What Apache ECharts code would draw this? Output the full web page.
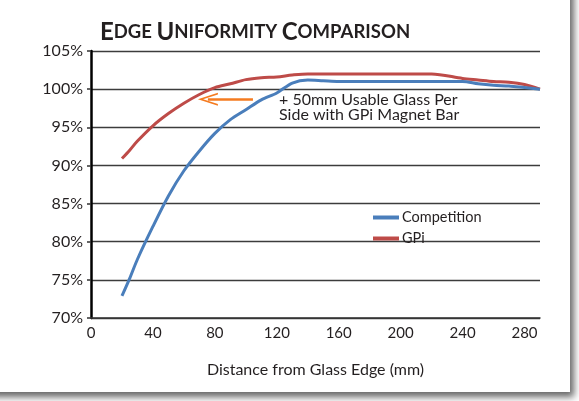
<!DOCTYPE html>
<html>
<head>
<meta charset="utf-8">
<script src="https://cdn.jsdelivr.net/npm/echarts@6/dist/echarts.min.js"></script>
<style>
html,body{margin:0;padding:0;width:579px;height:401px;overflow:hidden;background:#fff;}
#card{position:absolute;left:-20px;top:-20px;width:590px;height:412px;background:#fff;box-shadow:3px 4px 7px 1px rgba(0,0,0,0.6);}
#chart{position:absolute;left:0;top:0;width:579px;height:401px;}
</style>
</head>
<body>
<div id="card"></div>
<div id="chart"></div>
<script>
const distance = [20,25,30,40,50,60,70,80,90,100,110,120,130,140,150,160,180,200,220,240,250,260,270,280,290];
const competition = [72.9,75.2,77.7,82.0,86.0,89.3,91.9,94.2,96.0,97.3,98.6,99.5,100.8,101.2,101.1,101.0,101.0,101.0,101.0,101.0,100.7,100.5,100.4,100.2,100.0];
const gpi = [90.9,92.0,93.2,95.2,96.8,98.15,99.3,100.2,100.7,101.25,101.5,101.6,101.85,102.0,102.0,102.0,102.0,102.0,102.0,101.4,101.2,101.0,100.9,100.6,100.0];
const seriesNames = ['Competition','GPi'];
const yTicks = [70,75,80,85,90,95,100,105];
const xTicks = [0,40,80,120,160,200,240,280];
const arrowFrom = [104.6, 98.67];
const arrowTo = [75.5, 98.67];
const noteText = '+ 50mm Usable Glass Per\nSide with GPi Magnet Bar';

const FONT = 'Lato';
const chart = echarts.init(document.getElementById('chart'), null, {renderer:'canvas'});
const pair = (ys) => distance.map((x,i)=>[x, ys[i]]);

function smallCaps(str){
  return str.split(' ').map(w => '{b|' + w[0] + '}{s|' + w.slice(1).toUpperCase() + '}').join('{s| }');
}

chart.setOption({
  animation:false,
  backgroundColor:'transparent',
  title:{
    text: smallCaps('Edge Uniformity Comparison'),
    left: 95, top: 15,
    textStyle:{
      rich:{
        b:{fontFamily:FONT,fontWeight:'bold',fontSize:24,color:'#231f20'},
        s:{fontFamily:FONT,fontWeight:'bold',fontSize:18.5,color:'#231f20'}
      }
    }
  },
  grid:{left:91,right:39,top:51,bottom:83,containLabel:false},
  legend:{
    orient:'vertical', left:368, top:205,
    itemWidth:26, itemHeight:4, itemGap:6, icon:'rect',
    textStyle:{fontFamily:FONT,fontSize:14.5,color:'#231f20',padding:[0,0,0,-2]},
    data: seriesNames
  },
  xAxis:{
    type:'value', min:0, max:290, interval:40,
    axisLine:{show:true,onZero:false,lineStyle:{color:'#333',width:1.5}},
    axisTick:{show:false},
    splitLine:{show:false},
    axisLabel:{fontFamily:FONT,fontSize:15,color:'#231f20',margin:8,showMaxLabel:false,
      formatter:(v)=> xTicks.includes(v) ? String(v) : ''},
    name:'Distance from Glass Edge (mm)', nameLocation:'middle', nameGap:44,
    nameTextStyle:{fontFamily:FONT,fontSize:16,color:'#231f20'}
  },
  yAxis:{
    type:'value', min:70, max:105, interval:5,
    axisLine:{show:true,lineStyle:{color:'#000',width:2.5}},
    axisTick:{show:true,length:4,lineStyle:{color:'#333',width:1.5}},
    splitLine:{show:true,lineStyle:{color:'#3c3c3c',width:1.4}},
    axisLabel:{fontFamily:FONT,fontSize:16,color:'#231f20',margin:8,
      formatter:(v)=> yTicks.includes(v) ? v + '%' : ''}
  },
  series:[
    {
      name:seriesNames[0], type:'line', data:pair(competition),
      smooth:0.3, symbol:'none',
      lineStyle:{color:'#4a7ebb',width:3}, itemStyle:{color:'#4a7ebb'},
      z:3
    },
    {
      name:seriesNames[1], type:'line', data:pair(gpi),
      smooth:0.3, symbol:'none',
      lineStyle:{color:'#be4b48',width:3}, itemStyle:{color:'#be4b48'},
      z:2,
      markLine:{
        silent:true,
        symbol:['none','path://M0,10 L5,0 L10,10 L8.6,10 L5,2.6 L1.4,10 Z'],
        symbolSize:[13,20],
        label:{show:false},
        lineStyle:{color:'#f47b20',width:2.5,type:'solid'},
        data:[[{coord:arrowFrom},{coord:arrowTo}]]
      }
    }
  ],
  graphic:[
    {type:'text', left:279, top:92, z:10,
     style:{text:noteText, fontFamily:FONT, fontSize:16, lineHeight:15, fill:'#231f20'}}
  ]
});
</script>
</body>
</html>
